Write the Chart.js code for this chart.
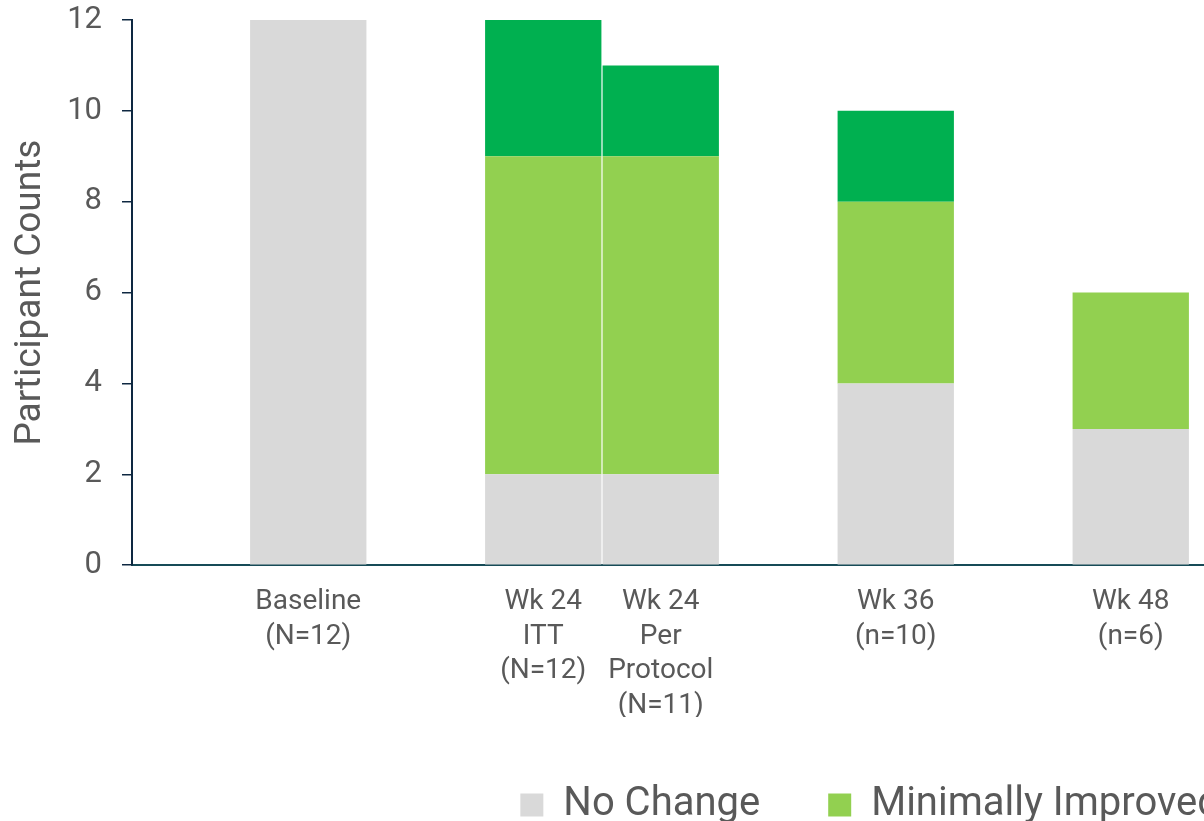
<!DOCTYPE html>
<html>
<head>
<meta charset="utf-8">
<script src="https://cdn.jsdelivr.net/npm/chart.js@4.4.1/dist/chart.umd.min.js"></script>
<style>
  html, body { margin: 0; padding: 0; background: #fff; overflow: hidden; width: 1204px; height: 821px; }
  #wrap { position: relative; width: 2128px; height: 821px; }
</style>
</head>
<body>
<div id="wrap"><canvas id="c"></canvas></div>
<script>
const categories = [
  '',
  ['Baseline', '(N=12)'],
  '',
  ['Wk 24', 'ITT', '(N=12)'],
  ['Wk 24', 'Per', 'Protocol', '(N=11)'],
  '',
  ['Wk 36', '(n=10)'],
  '',
  ['Wk 48', '(n=6)'],
  ''
];
const noChange          = [null, 12, null, 2, 2, null, 4, null, 3, null];
const minimallyImproved = [null, 0,  null, 7, 7, null, 4, null, 3, null];
const muchImproved      = [null, 0,  null, 3, 2, null, 2, null, 0, null];
const seriesNames = ['No Change', 'Minimally Improved', 'Much Improved'];
const yTicks = { min: 0, max: 12, step: 2 };

Chart.defaults.font.family = 'Roboto';
const textColor = '#595959';

new Chart(document.getElementById('c'), {
  type: 'bar',
  data: {
    labels: categories,
    datasets: [
      { label: seriesNames[0], data: noChange, backgroundColor: '#D9D9D9' },
      { label: seriesNames[1], data: minimallyImproved, backgroundColor: '#92D050' },
      { label: seriesNames[2], data: muchImproved, backgroundColor: '#00B050' }
    ]
  },
  options: {
    responsive: true,
    maintainAspectRatio: false,
    animation: false,
    layout: { padding: { top: 20, bottom: -14, left: 0, right: 0 } },
    datasets: { bar: { barPercentage: 0.99, categoryPercentage: 1, borderWidth: 0 } },
    plugins: {
      tooltip: { enabled: false },
      legend: {
        position: 'bottom',
        labels: {
          color: textColor,
          font: { size: 40, lineHeight: 1.2 },
          boxWidth: 23,
          boxHeight: 23,
          padding: 68
        }
      }
    },
    scales: {
      x: {
        stacked: true,
        afterFit: (s) => { s.height = s.height - 26; },
        grid: { display: false, drawTicks: false },
        border: { display: true, color: '#174B57', width: 2 },
        ticks: {
          color: textColor,
          font: { size: 28, lineHeight: 1.23 },
          padding: 20,
          maxRotation: 0,
          autoSkip: false
        }
      },
      y: {
        stacked: true,
        min: yTicks.min,
        max: yTicks.max,
        afterFit: (s) => { s.width = 132; s.paddingTop = 0; s.paddingBottom = 0; },
        grid: { drawOnChartArea: false, drawTicks: true, tickLength: 10, color: '#0E2841', lineWidth: 1.5 },
        border: { display: true, color: '#0E2841', width: 2 },
        ticks: { stepSize: yTicks.step, color: textColor, font: { size: 31 }, padding: 20 },
        title: {
          display: true,
          text: 'Participant Counts',
          color: textColor,
          font: { size: 37, lineHeight: 1.2 },
          padding: { top: 9, bottom: 0 }
        }
      },
      pad: {
        type: 'linear',
        position: 'right',
        display: true,
        afterFit: (s) => { s.width = 821; s.paddingTop = 0; s.paddingBottom = 0; },
        grid: { display: false },
        border: { display: false },
        ticks: { display: false }
      }
    }
  }
});
</script>
</body>
</html>
